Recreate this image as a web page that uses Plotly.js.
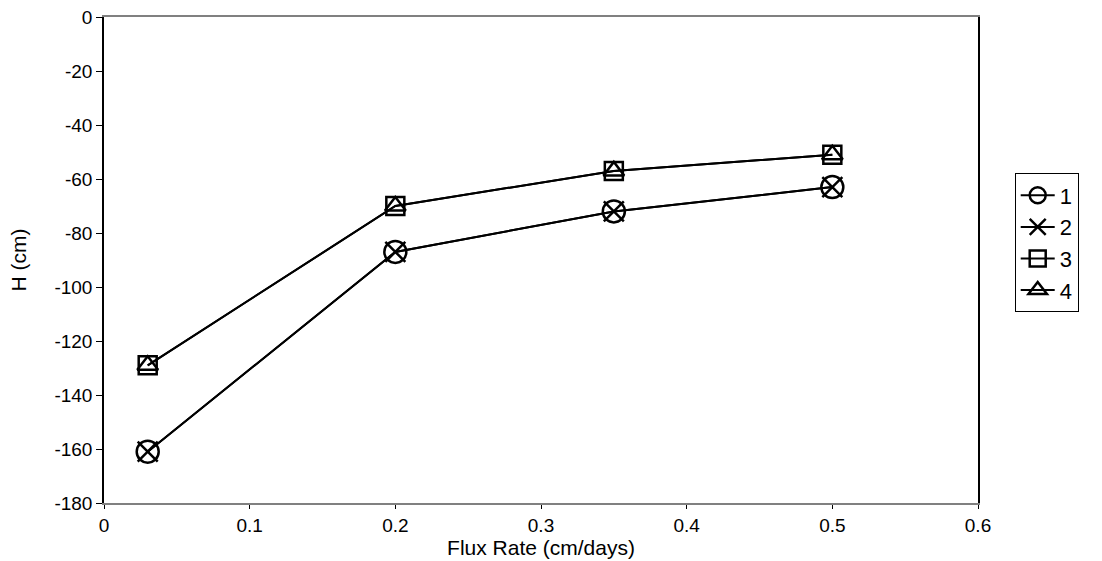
<!DOCTYPE html>
<html>
<head>
<meta charset="utf-8">
<script src="https://cdn.plot.ly/plotly-3.0.1.min.js"></script>
<style>body{margin:0;background:#fff;}#chart{width:1102px;height:561px;}</style>
</head>
<body>
<div id="chart"></div>
<script>
const fluxRate = [0.03, 0.2, 0.35, 0.5];
const series1 = [-161, -87, -72, -63];
const series2 = [-161, -87, -72, -63];
const series3 = [-129, -70, -57, -51];
const series4 = [-129, -70, -57, -51];
const seriesNames = ["1", "2", "3", "4"];
const yTickVals = [0, -20, -40, -60, -80, -100, -120, -140, -160, -180];
const yTickText = ["0", "-20", "-40", "-60", "-80", "-100", "-120", "-140", "-160", "-180"];
const xTickVals = [0, 0.1, 0.2, 0.3, 0.4, 0.5, 0.6];
const xTickText = ["0", "0.1", "0.2", "0.3", "0.4", "0.5", "0.6"];

const symbols = ["circle-open", "x-thin-open", "square-open", "triangle-up-open"];
const sizes = [22, 20, 18, 18];
const ys = [series1, series2, series3, series4];

const traces = ys.map((y, i) => ({
  x: fluxRate, y: y, name: seriesNames[i], type: "scatter", mode: "lines+markers",
  line: {color: "#000", width: 2},
  marker: {symbol: symbols[i], size: sizes[i], color: "#000", line: {color: "#000", width: 2.5}}
}));

const layout = {
  width: 1102, height: 561,
  margin: {l: 104, r: 124, t: 17, b: 58},
  paper_bgcolor: "#fff", plot_bgcolor: "#fff",
  font: {family: "Liberation Sans, Arial, sans-serif", size: 19, color: "#000"},
  showlegend: true,
  legend: {x: 1.042, y: 0.535, xanchor: "left", yanchor: "middle", bordercolor: "#000", borderwidth: 1,
           font: {size: 22}, tracegroupgap: 0, itemwidth: 34},
  xaxis: {range: [0, 0.6], tickvals: xTickVals, ticktext: xTickText, showgrid: false, zeroline: false,
          showline: true, linecolor: "#808080", linewidth: 1.5, mirror: true,
          ticks: "outside", ticklen: 4, tickcolor: "#000",
          title: {text: "Flux Rate (cm/days)", font: {size: 21}, standoff: 4}},
  yaxis: {range: [-180, 0], tickvals: yTickVals, ticktext: yTickText, showgrid: false, zeroline: false,
          showline: true, linecolor: "#000", linewidth: 1.5, mirror: true,
          ticks: "outside", ticklen: 6, tickcolor: "#000",
          title: {text: "H (cm)", font: {size: 21}, standoff: 22}}
};

Plotly.newPlot("chart", traces, layout, {displayModeBar: false});
</script>
</body>
</html>
